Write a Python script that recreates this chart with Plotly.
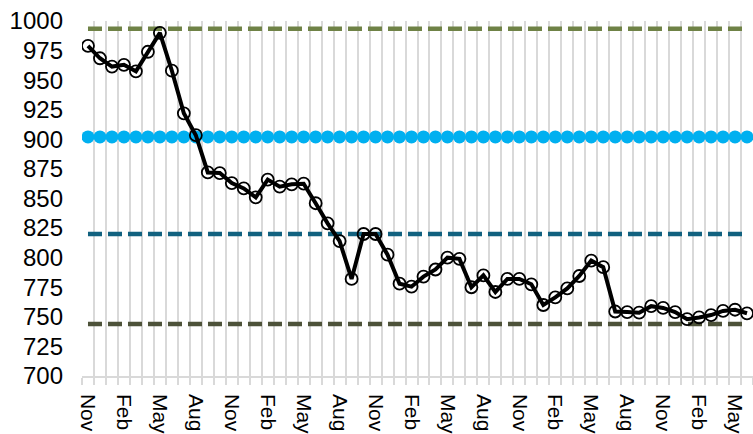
import plotly.graph_objects as go

# monthly values, Nov through Jun (56 months)
values = [979, 968.5, 961.5, 963, 957.5, 974, 990, 958, 922, 903.5,
          872, 871.5, 863, 858.5, 851, 866, 860, 862, 862.5, 846,
          829, 814, 782, 820, 820, 802.5, 778, 775.5, 784, 790,
          800, 799, 775, 785, 771, 782, 782, 777.5, 760, 766.5,
          774, 784.5, 797.5, 792, 754.5, 754, 753.5, 759, 757.5, 754,
          748, 749.5, 751.5, 755, 756, 753]

month_names = ["Jan", "Feb", "Mar", "Apr", "May", "Jun",
               "Jul", "Aug", "Sep", "Oct", "Nov", "Dec"]
start_month = 10  # Nov

upper_limit = 993.5
target = 902
center_line = 820
lower_limit = 744

n = len(values)
x = list(range(n))
months = [month_names[(start_month + i) % 12] for i in x]

fig = go.Figure()

# reference lines
for level, color in [(upper_limit, "#6F8246"), (center_line, "#11617F"), (lower_limit, "#4D5239")]:
    fig.add_trace(go.Scatter(
        x=x, y=[level] * n, mode="lines",
        line=dict(color=color, width=4.5, dash="14px,6px"),
        hoverinfo="skip", showlegend=False,
    ))

# target as big dots, one per month
fig.add_trace(go.Scatter(
    x=x, y=[target] * n, mode="markers",
    marker=dict(color="#00B0F0", size=13, line=dict(width=0)),
    showlegend=False,
))

# actual series
fig.add_trace(go.Scatter(
    x=x, y=values, mode="lines+markers",
    line=dict(color="black", width=4),
    marker=dict(symbol="circle-open", size=12, color="black", line=dict(width=1.8)),
    showlegend=False,
))

fig.update_layout(
    width=753, height=434,
    margin=dict(l=82, r=0, t=21, b=58, autoexpand=False),
    paper_bgcolor="white", plot_bgcolor="white",
    font=dict(family="Liberation Sans, Arial", color="black"),
    xaxis=dict(
        range=[-0.5, n - 0.5],
        tickmode="array",
        tickvals=x[::3],
        ticktext=months[::3],
        tickangle=90,
        tickfont=dict(size=21),
        showgrid=False,
        ticks="",
        ticklabelstandoff=12,
        showline=True, linecolor="#D9D9D9", linewidth=1.5,
        zeroline=False,
        minor=dict(
            tickmode="array",
            tickvals=[i - 0.5 for i in range(n + 1)],
            showgrid=True, gridcolor="#D9D9D9", gridwidth=1.5,
            ticks="outside", ticklen=7, tickcolor="#D9D9D9", tickwidth=1.5,
        ),
    ),
    yaxis=dict(
        range=[700, 1000],
        tickmode="linear", tick0=700, dtick=25,
        tickfont=dict(size=24),
        showgrid=False, zeroline=False, showline=False,
        ticks="",
        ticklabelstandoff=18,
    ),
)

fig.write_html("out.html", config={"displayModeBar": False},
               post_script="document.body.style.margin='0';")
